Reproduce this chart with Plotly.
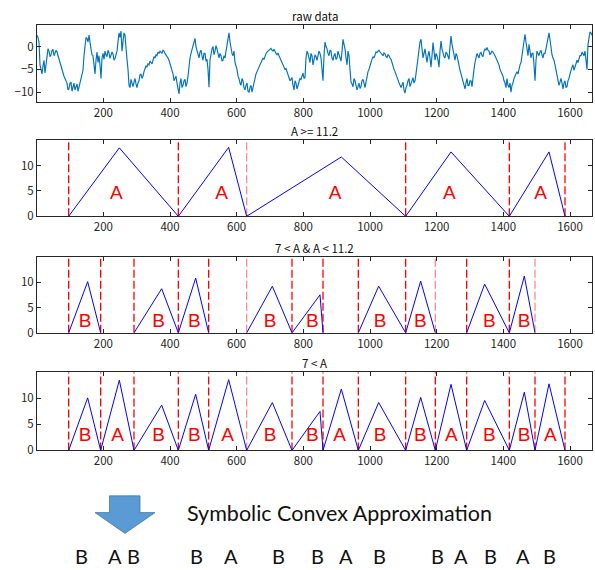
import plotly.graph_objects as go

W, H = 595, 570

# ---------------- data ----------------
raw_start = 1
raw_step = 3
raw_values = [
    2.5, 2.0, 1.0, -4.0, -5.0, -6.0, -4.2, -3.0, -5.8, -3.5, -2.5, -0.5, -1.0, -2.2, -1.8, -0.8, -0.6, -2.0, -1.5, -0.8,
    -1.2, -2.0, -2.8, -3.5, -4.5, -4.8, -5.5, -6.5, -7.0, -7.8, -8.0, -9.5, -9.2, -8.0, -7.8, -9.8, -8.6, -8.0, -9.5, -8.5,
    -8.2, -9.8, -9.0, -8.0, -7.2, -6.0, -5.2, -2.0, 0.5, 2.0, 1.8, 1.0, 2.5, 0.5, -0.5, -1.8, -2.0, -4.0, -6.0, -3.0,
    -1.2, -3.5, -2.0, -4.0, -7.0, -2.5, -1.5, -2.8, -1.0, -1.8, -2.2, -0.8, -1.4, -2.6, -2.0, -1.2, -1.6, -3.0, -2.6, -2.0,
    -1.0, 1.0, 3.0, 2.0, 3.4, -1.0, 0.5, 3.0, 2.5, -1.5, -2.8, -5.0, -8.5, -9.0, -7.2, -8.0, -8.8, -7.8, -7.0, -8.2,
    -9.0, -8.0, -7.5, -6.2, -6.0, -7.0, -6.5, -5.5, -5.0, -4.2, -4.5, -3.8, -4.0, -3.2, -3.5, -3.8, -3.0, -2.2, -2.5, -1.8,
    -2.0, -1.2, -1.5, -1.0, -1.2, -1.5, -0.8, -1.0, -1.5, -1.8, -2.0, -2.5, -3.0, -3.8, -4.5, -5.5, -6.0, -7.5, -7.0, -6.5,
    -8.0, -9.0, -10.4, -8.0, -7.0, -9.0, -8.5, -7.5, -7.2, -8.8, -8.0, -6.5, -4.0, -2.5, -1.5, -0.5, 0.5, 1.5, 1.8, 0.0,
    -1.0, -2.0, -2.5, -1.2, -0.8, -2.0, -3.0, -1.5, -1.5, -3.2, -2.8, -5.0, -8.9, -3.0, -1.5, -0.5, 0.0, -1.8, -1.0, 0.2,
    -0.5, -1.8, -2.5, -1.5, -2.0, -3.2, -3.0, -2.0, -2.5, -1.0, 0.5, 2.0, 3.0, 1.0, -0.5, -1.5, -2.0, -1.0, -3.5, -4.2,
    -5.0, -6.5, -7.0, -8.0, -8.5, -7.0, -7.5, -9.0, -9.5, -8.5, -8.0, -9.8, -10.0, -9.0, -8.5, -10.0, -9.0, -7.5, -6.5, -6.0,
    -5.5, -5.0, -4.5, -4.0, -3.5, -3.0, -2.5, -2.8, -2.0, -1.5, -1.2, -1.0, -0.8, -0.5, -0.4, -0.8, -1.0, -0.6, -1.3, -1.5,
    -1.8, -1.4, -2.0, -2.5, -3.0, -3.2, -3.8, -4.5, -5.0, -4.8, -5.5, -6.2, -6.5, -7.5, -7.2, -6.8, -8.5, -9.5, -7.5, -8.0,
    -9.3, -8.5, -8.0, -7.0, -7.2, -6.5, -5.8, -7.0, -6.8, -2.5, -1.0, -1.5, -2.5, -3.5, -1.5, -2.0, -4.0, -3.0, -1.8, -2.2,
    -3.0, -2.0, -1.0, -1.5, -2.5, -5.0, -7.5, -2.0, 1.0, 0.0, -0.5, -1.5, -2.0, -0.8, -1.0, -2.5, -3.0, -2.0, -1.5, -2.8,
    -2.5, -1.0, -1.8, -2.5, -3.2, -1.0, 1.6, 0.5, -0.5, -2.5, -4.0, -1.0, -2.0, -5.0, -7.8, -8.2, -8.8, -7.0, -7.5, -8.5,
    -9.5, -8.8, -8.0, -9.2, -8.8, -7.5, -7.2, -8.0, -9.0, -7.8, -6.5, -5.5, -5.0, -4.0, -3.5, -2.8, -2.2, -2.5, -1.8, -1.2,
    -1.3, -1.0, -0.8, -1.2, -1.5, -1.8, -2.0, -1.4, -1.6, -2.2, -2.4, -1.8, -2.0, -2.5, -2.8, -3.5, -4.5, -5.0, -5.5, -6.2,
    -6.5, -7.5, -8.0, -8.5, -9.0, -8.2, -7.8, -9.5, -10.2, -9.0, -8.5, -7.5, -7.0, -8.8, -8.2, -7.5, -6.8, -8.0, -7.5, -6.0,
    -4.0, -2.0, 0.5, 1.0, 1.6, -1.0, -2.5, -1.5, -0.5, -2.0, -3.5, -2.0, -1.0, -2.5, -4.5, -2.0, 0.9, -1.0, -3.0, -1.5,
    -2.0, -3.0, -4.5, -1.0, 1.2, -0.5, -1.5, -2.2, -2.5, -1.2, -1.5, -2.0, -2.8, 0.0, 2.3, 0.5, -1.0, -2.0, -3.0, -1.5,
    -2.0, -3.0, -4.5, -5.2, -6.0, -7.0, -7.5, -8.5, -9.3, -8.0, -7.0, -8.5, -8.5, -7.5, -7.5, -8.8, -6.0, -5.0, -3.5, -2.5,
    -1.5, -2.0, -2.5, -1.5, -1.3, -2.0, -2.2, -1.0, -0.5, -0.8, -0.2, -0.8, -1.0, -1.8, -1.5, -1.0, -1.2, -1.8, -2.0, -2.5,
    -3.0, -3.5, -4.0, -5.0, -5.5, -6.0, -6.5, -7.5, -8.0, -9.0, -7.0, -8.5, -9.0, -8.0, -10.0, -8.5, -8.0, -7.0, -6.5, -6.0,
    -5.5, -6.0, -4.5, -4.0, -3.5, -2.0, -0.5, 1.5, 2.7, 1.0, -1.0, -2.0, 0.5, -1.0, -2.5, -1.5, -1.5, -4.0, -7.5, -3.0,
    -1.0, -1.5, -2.0, -1.2, -0.8, -1.8, -2.5, -1.5, -1.5, -0.5, 0.5, 2.0, 3.0, 1.5, -0.5, -1.8, -2.5, -3.0, -4.0, -5.0,
    -6.5, -7.5, -8.5, -7.8, -7.0, -8.0, -9.3, -8.0, -7.5, -9.0, -8.8, -7.5, -7.0, -6.0, -5.0, -4.5, -4.0, -5.2, -4.5, -3.5,
    -3.0, -3.5, -2.5, -2.0, -2.0, -1.2, -1.6, -2.0, -1.0, -2.5, -5.0, 0.5, 2.5, 3.2, 3.0, 2.5,
]
raw_x = [raw_start + raw_step * i for i in range(len(raw_values))]

# segments with 7 < A (bottom panel)
seg_bounds = [96, 192, 292, 425, 516, 630, 766, 859, 965, 1107, 1196, 1290, 1418, 1495, 1585]
seg_peak_x = [153, 248, 375, 477, 576, 707, 850, 914, 1026, 1152, 1243, 1344, 1463, 1537]
seg_peak_y = [10.1, 13.5, 8.7, 10.8, 13.6, 9.2, 7.5, 11.8, 9.2, 10.2, 12.7, 9.6, 11.2, 12.8]
seg_symbols = ["B", "A", "B", "B", "A", "B", "B", "A", "B", "B", "A", "B", "B", "A"]
seg_label_x = [145, 243, 366, 473, 573, 700, 827, 909, 1030, 1151, 1244, 1358, 1462, 1541]

# A >= 11.2 panel (merged intervals)
a_bounds = [96, 425, 630, 1107, 1418, 1585]
a_peak_x = [248, 576, 914, 1243, 1537]
a_peak_y = [13.5, 13.6, 11.7, 12.7, 12.7]
a_label_x = [239, 555, 895, 1238, 1512]

# label heights per panel
a_label_y = 4.4
b_label_y = 2.1
all_label_y = 2.7

# boundaries rendered lighter (anti-aliased) in the reference
light_bounds_a = [630]
light_bounds_b = [630, 1196, 1495]
light_bounds_all = [630]

x_ticks = [200, 400, 600, 800, 1000, 1200, 1400, 1600]
raw_y_ticks = [-10, -5, 0]
seg_y_ticks = [0, 5, 10]
x_range = [1, 1666]
raw_y_range = [-12.1, 4.8]
seg_y_range = [0, 15]

titles = ["raw data", "A &gt;= 11.2", "7 &lt; A &amp; A &lt; 11.2", "7 &lt; A"]
bottom_symbols = ["B", "A", "B", "B", "A", "B", "B", "A", "B", "B", "A", "B", "A", "B"]
bottom_symbol_px = [81, 115, 133, 196, 231, 278, 317, 346, 380, 437, 461, 490, 523, 549]

# ---------------- layout helpers ----------------
def py(p):
    return 1 - p / H

def px(p):
    return p / W

panels = [(25, 103), (142, 219), (260, 337), (377, 456)]
x_dom = [px(37), px(592)]

RED = "#FF0000"
PINK = "#FF8C8C"
BLUE = "#0000FF"
AXC = "#262626"
TICKFONT = dict(family="Noto Sans CJK JP, Noto Sans, sans-serif", size=11.5, color=AXC)
LABELFONT = dict(family="Liberation Sans, Arial, sans-serif", size=19, color=RED)

fig = go.Figure()


def tri_path(starts, peaks_x, peaks_y, ends):
    xs, ys = [], []
    for s, p, v, e in zip(starts, peaks_x, peaks_y, ends):
        xs += [s, p, e, None]
        ys += [0, v, 0, None]
    return xs, ys


def add_vlines(bounds, light, xa, ya):
    for group, col in ((
        [b for b in bounds if b not in light], RED), ([b for b in bounds if b in light], PINK)):
        xs, ys = [], []
        for b in group:
            xs += [b, b, None]
            ys += [0, seg_y_range[1], None]
        if xs:
            fig.add_trace(go.Scatter(x=xs, y=ys, mode="lines",
                                     line=dict(color=col, width=1.3, dash="8px,3px"),
                                     xaxis=xa, yaxis=ya, showlegend=False, hoverinfo="skip"))


# panel 1: raw data
fig.add_trace(go.Scatter(x=raw_x, y=raw_values, mode="lines",
                         line=dict(color="#0072BD", width=1.15),
                         xaxis="x", yaxis="y", showlegend=False, hoverinfo="skip"))

# panel 2: A >= 11.2
add_vlines(a_bounds, light_bounds_a, "x2", "y2")
tx, ty = tri_path(a_bounds[:-1], a_peak_x, a_peak_y, a_bounds[1:])
fig.add_trace(go.Scatter(x=tx, y=ty, mode="lines", line=dict(color=BLUE, width=1),
                         xaxis="x2", yaxis="y2", showlegend=False, hoverinfo="skip"))
fig.add_trace(go.Scatter(x=a_label_x, y=[a_label_y] * len(a_label_x), mode="text",
                         text=["A"] * len(a_label_x), textfont=LABELFONT,
                         xaxis="x2", yaxis="y2", showlegend=False, hoverinfo="skip"))

# panel 3: B only
b_idx = [i for i, s in enumerate(seg_symbols) if s == "B"]
b_starts = [seg_bounds[i] for i in b_idx]
b_ends = [seg_bounds[i + 1] for i in b_idx]
b_lines = sorted(set(b_starts + b_ends))
add_vlines(b_lines, light_bounds_b, "x3", "y3")
tx, ty = tri_path(b_starts, [seg_peak_x[i] for i in b_idx], [seg_peak_y[i] for i in b_idx], b_ends)
fig.add_trace(go.Scatter(x=tx, y=ty, mode="lines", line=dict(color=BLUE, width=1),
                         xaxis="x3", yaxis="y3", showlegend=False, hoverinfo="skip"))
fig.add_trace(go.Scatter(x=[seg_label_x[i] for i in b_idx], y=[b_label_y] * len(b_idx), mode="text",
                         text=["B"] * len(b_idx), textfont=LABELFONT,
                         xaxis="x3", yaxis="y3", showlegend=False, hoverinfo="skip"))

# panel 4: all
add_vlines(seg_bounds, light_bounds_all, "x4", "y4")
tx, ty = tri_path(seg_bounds[:-1], seg_peak_x, seg_peak_y, seg_bounds[1:])
fig.add_trace(go.Scatter(x=tx, y=ty, mode="lines", line=dict(color=BLUE, width=1),
                         xaxis="x4", yaxis="y4", showlegend=False, hoverinfo="skip"))
fig.add_trace(go.Scatter(x=seg_label_x, y=[all_label_y] * len(seg_label_x), mode="text",
                         text=seg_symbols, textfont=LABELFONT,
                         xaxis="x4", yaxis="y4", showlegend=False, hoverinfo="skip"))

layout = dict(width=W, height=H, margin=dict(l=0, r=0, t=0, b=0),
              paper_bgcolor="white", plot_bgcolor="white", showlegend=False)

annotations = []
for k, (top, bot) in enumerate(panels):
    n = "" if k == 0 else str(k + 1)
    yr = raw_y_range if k == 0 else seg_y_range
    yt = raw_y_ticks if k == 0 else seg_y_ticks
    layout["xaxis" + n] = dict(domain=x_dom, range=x_range, anchor="y" + n,
                               tickvals=x_ticks, ticks="inside", ticklen=4, tickwidth=1,
                               tickcolor=AXC, showline=True, linecolor=AXC, linewidth=1,
                               mirror="ticks", showgrid=False, zeroline=False,
                               tickfont=TICKFONT, fixedrange=True)
    layout["yaxis" + n] = dict(domain=[py(bot), py(top)], range=yr, anchor="x" + n,
                               tickvals=yt, ticks="inside", ticklen=4, tickwidth=1,
                               tickcolor=AXC, showline=True, linecolor=AXC, linewidth=1,
                               mirror="ticks", showgrid=False, zeroline=False,
                               tickfont=TICKFONT, fixedrange=True)
    annotations.append(dict(text=titles[k], xref="paper", yref="paper",
                            x=px(314.5), y=py(top - 9), xanchor="center", yanchor="middle",
                            showarrow=False,
                            font=dict(family="Noto Sans CJK JP, sans-serif", size=11.5, color="#111111")))

annotations.append(dict(text="Symbolic Convex Approximation", xref="paper", yref="paper",
                        x=px(185), y=py(519), xanchor="left", yanchor="middle", showarrow=False,
                        font=dict(family="Lato, Open Sans, sans-serif", size=21.5, color="#111111")))
for s, p in zip(bottom_symbols, bottom_symbol_px):
    annotations.append(dict(text=s, xref="paper", yref="paper", x=px(p), y=py(563),
                            xanchor="center", yanchor="middle", showarrow=False,
                            font=dict(family="Lato, Open Sans, sans-serif", size=20, color="#111111")))
layout["annotations"] = annotations

arrow_pts = [(109.5, 502), (140, 502), (140, 519), (155, 519), (125, 540), (95, 519), (109.5, 519)]
path = "M " + " L ".join(f"{px(a):.4f},{py(b):.4f}" for a, b in arrow_pts) + " Z"
layout["shapes"] = [dict(type="path", path=path, xref="paper", yref="paper",
                         fillcolor="#5B9BD5", line=dict(color="#41719C", width=0.75))]

fig.update_layout(**layout)
fig.write_html("out.html", config={"displayModeBar": False},
               post_script="document.body.style.margin='0px';")
